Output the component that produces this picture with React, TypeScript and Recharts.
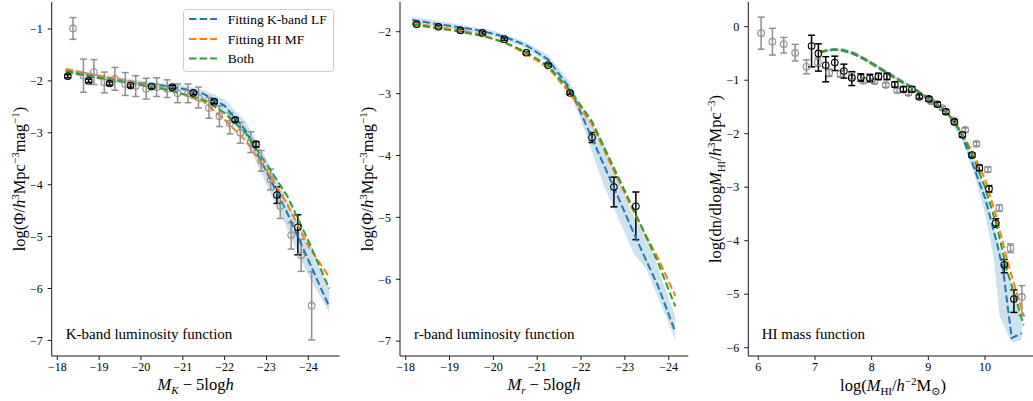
import React from 'react';
import { ComposedChart, Line, Area, Scatter, ErrorBar, XAxis, YAxis } from 'recharts';

const BLUE = '#1f77b4';
const ORANGE = '#ff7f0e';
const GREEN = '#2ca02c';
const GRAY = '#8f8f8f';
const FONT = '"Liberation Serif", "Times New Roman", "DejaVu Serif", serif';

const legendLabels = ['Fitting K-band LF', 'Fitting HI MF', 'Both'];
const panelTitles = ['K-band luminosity function', 'r-band luminosity function', 'HI mass function'];

// ---------- Panel 1 : K-band LF ----------
const kTicksX = [-18, -19, -20, -21, -22, -23, -24];
const kTicksY = [-1, -2, -3, -4, -5, -6, -7];
const kCurveX = [-18.2, -18.5, -19, -19.5, -20, -20.5, -21, -21.5, -22, -22.5, -23, -23.5, -24, -24.5];
const kBlue = [-1.8, -1.85, -1.92, -1.98, -2.04, -2.09, -2.15, -2.25, -2.48, -2.95, -3.75, -4.55, -5.45, -6.35];
const kOrange = [-1.77, -1.82, -1.9, -1.97, -2.05, -2.14, -2.26, -2.4, -2.75, -3.15, -3.72, -4.38, -5.18, -5.78];
const kGreen = [-1.83, -1.87, -1.95, -2.01, -2.08, -2.15, -2.25, -2.36, -2.62, -3.0, -3.6, -4.22, -5.08, -6.0];
const kBandX = [-18.2, -19, -20, -21, -21.5, -22, -22.5, -23, -23.5, -24, -24.5];
const kBandLo = [-1.85, -1.97, -2.09, -2.21, -2.33, -2.6, -3.12, -4.0, -4.85, -5.75, -6.45];
const kBandHi = [-1.75, -1.87, -1.99, -2.09, -2.17, -2.36, -2.78, -3.5, -4.3, -5.15, -6.0];
const kBlackX = [-18.25, -18.75, -19.25, -19.75, -20.25, -20.75, -21.25, -21.75, -22.25, -22.75, -23.25, -23.75];
const kBlackY = [-1.91, -2.0, -2.05, -2.09, -2.11, -2.12, -2.23, -2.4, -2.75, -3.22, -4.2, -4.82];
const kBlackLo = [0.03, 0.03, 0.03, 0.03, 0.03, 0.03, 0.03, 0.03, 0.04, 0.05, 0.16, 0.53];
const kBlackHi = [0.03, 0.03, 0.03, 0.03, 0.03, 0.03, 0.03, 0.03, 0.04, 0.05, 0.16, 0.24];
const kGrayX = [-18.375, -18.625, -18.875, -19.125, -19.375, -19.625, -19.875, -20.125, -20.375, -20.625, -20.875, -21.125, -21.375, -21.625, -21.875, -22.125, -22.375, -22.625, -22.875, -23.1, -23.33, -23.59, -23.83, -24.08];
const kGrayY = [-0.99, -1.9, -1.83, -2.03, -1.96, -2.06, -2.1, -2.15, -2.12, -2.15, -2.24, -2.24, -2.32, -2.52, -2.68, -2.82, -3.0, -3.18, -3.54, -3.9, -4.41, -4.97, -5.36, -6.33];
const kGrayLo = [0.21, 0.32, 0.24, 0.2, 0.22, 0.22, 0.2, 0.2, 0.18, 0.17, 0.18, 0.18, 0.2, 0.2, 0.2, 0.2, 0.2, 0.2, 0.2, 0.2, 0.24, 0.27, 0.31, 0.66];
const kGrayHi = [0.21, 0.32, 0.24, 0.2, 0.22, 0.22, 0.2, 0.2, 0.18, 0.17, 0.18, 0.18, 0.2, 0.2, 0.2, 0.2, 0.2, 0.2, 0.2, 0.2, 0.21, 0.24, 0.31, 0.65];

// ---------- Panel 2 : r-band LF ----------
const rTicksX = [-18, -19, -20, -21, -22, -23, -24];
const rTicksY = [-2, -3, -4, -5, -6, -7];
const rCurveX = [-18.15, -18.75, -19.25, -19.75, -20.25, -20.75, -21.25, -21.75, -22.25, -22.75, -23.25, -23.75, -24.15];
const rBlue = [-1.81, -1.88, -1.93, -1.99, -2.08, -2.22, -2.45, -2.92, -3.72, -4.52, -5.33, -6.1, -6.85];
const rOrange = [-1.86, -1.93, -1.98, -2.05, -2.17, -2.36, -2.58, -3.0, -3.5, -4.25, -4.98, -5.65, -6.27];
const rGreen = [-1.88, -1.95, -2.0, -2.07, -2.17, -2.33, -2.55, -2.95, -3.45, -4.2, -4.95, -5.72, -6.44];
const rBandX = [-18.15, -19, -20, -20.75, -21.25, -21.75, -22, -22.5, -23.2, -23.5, -24.15];
const rBandLo = [-1.86, -1.95, -2.07, -2.27, -2.51, -3.0, -3.43, -4.45, -5.58, -5.85, -6.98];
const rBandHi = [-1.76, -1.86, -1.98, -2.17, -2.38, -2.82, -3.2, -3.76, -4.99, -5.3, -6.6];
const rBlackX = [-18.25, -18.75, -19.25, -19.75, -20.25, -20.75, -21.25, -21.75, -22.25, -22.75, -23.25];
const rBlackY = [-1.88, -1.92, -1.98, -2.02, -2.12, -2.34, -2.54, -2.99, -3.71, -4.51, -4.82];
const rBlackLo = [0.02, 0.02, 0.02, 0.02, 0.02, 0.02, 0.02, 0.02, 0.08, 0.32, 0.54];
const rBlackHi = [0.02, 0.02, 0.02, 0.02, 0.02, 0.02, 0.02, 0.02, 0.08, 0.16, 0.23];

// ---------- Panel 3 : HI MF ----------
const hTicksX = [6, 7, 8, 9, 10];
const hTicksY = [0, -1, -2, -3, -4, -5, -6];
const hBlueX = [7.09, 7.2, 7.35, 7.5, 7.7, 7.9, 8.1, 8.3, 8.5, 8.7, 8.9, 9.1, 9.3, 9.44, 9.6, 9.8, 10.0, 10.2, 10.32, 10.47, 10.65];
const hBlue = [-0.47, -0.44, -0.42, -0.43, -0.5, -0.61, -0.74, -0.87, -1.0, -1.12, -1.26, -1.41, -1.57, -1.74, -2.05, -2.62, -3.2, -4.0, -4.55, -5.82, -5.73];
const hFitX = [7.09, 7.2, 7.35, 7.5, 7.7, 7.9, 8.1, 8.3, 8.5, 8.7, 8.9, 9.1, 9.3, 9.44, 9.6, 9.8, 10.0, 10.2, 10.4, 10.55, 10.68];
const hOrange = [-0.49, -0.45, -0.43, -0.45, -0.52, -0.63, -0.76, -0.89, -1.02, -1.14, -1.28, -1.42, -1.58, -1.73, -2.0, -2.38, -2.85, -3.55, -4.4, -4.95, -5.39];
const hGreen = [-0.48, -0.45, -0.43, -0.45, -0.52, -0.63, -0.76, -0.89, -1.02, -1.14, -1.28, -1.43, -1.59, -1.75, -2.03, -2.45, -3.0, -3.7, -4.6, -5.1, -5.58];
const hBandX = [7.09, 7.35, 7.7, 8.1, 8.5, 8.9, 9.3, 9.6, 9.8, 10.0, 10.15, 10.26, 10.47, 10.65];
const hBandLo = [-0.5, -0.45, -0.53, -0.77, -1.03, -1.29, -1.62, -2.12, -2.72, -3.5, -4.3, -5.42, -5.9, -5.85];
const hBandHi = [-0.44, -0.39, -0.47, -0.71, -0.97, -1.23, -1.53, -1.97, -2.42, -3.05, -3.68, -4.11, -4.83, -5.45];
const hBlackX = [6.94, 7.06, 7.19, 7.35, 7.51, 7.65, 7.81, 7.97, 8.12, 8.27, 8.41, 8.56, 8.71, 8.84, 9.01, 9.16, 9.31, 9.46, 9.6, 9.77, 9.9, 10.07, 10.19, 10.34, 10.51];
const hBlackY = [-0.36, -0.5, -0.72, -0.67, -0.83, -0.96, -0.95, -0.96, -0.93, -0.93, -1.08, -1.17, -1.17, -1.31, -1.35, -1.45, -1.59, -1.78, -2.02, -2.4, -2.64, -3.03, -3.67, -4.45, -5.09];
const hBlackLo = [0.39, 0.33, 0.31, 0.15, 0.13, 0.14, 0.07, 0.07, 0.06, 0.06, 0.05, 0.05, 0.05, 0.04, 0.04, 0.04, 0.04, 0.04, 0.04, 0.04, 0.05, 0.06, 0.08, 0.15, 0.25];
const hBlackHi = [0.2, 0.18, 0.16, 0.12, 0.13, 0.12, 0.07, 0.07, 0.06, 0.06, 0.05, 0.05, 0.05, 0.04, 0.04, 0.04, 0.04, 0.04, 0.04, 0.04, 0.05, 0.06, 0.08, 0.1, 0.17];
const hGrayX = [6.05, 6.25, 6.45, 6.65, 6.85, 7.05, 7.25, 7.45, 7.65, 7.85, 8.05, 8.25, 8.45, 8.65, 8.85, 9.05, 9.25, 9.45, 9.65, 9.85, 10.05, 10.25, 10.45, 10.65];
const hGrayY = [-0.12, -0.28, -0.33, -0.49, -0.75, -0.66, -0.86, -0.88, -0.92, -1.01, -1.02, -1.09, -1.19, -1.24, -1.3, -1.4, -1.52, -1.75, -1.93, -2.19, -2.67, -3.39, -4.14, -5.05];
const hGrayLo = [0.3, 0.25, 0.16, 0.15, 0.13, 0.08, 0.07, 0.06, 0.06, 0.05, 0.04, 0.04, 0.04, 0.04, 0.03, 0.03, 0.03, 0.03, 0.04, 0.04, 0.05, 0.06, 0.08, 0.35];
const hGrayHi = [0.3, 0.25, 0.13, 0.16, 0.13, 0.08, 0.07, 0.06, 0.06, 0.05, 0.04, 0.04, 0.04, 0.04, 0.03, 0.03, 0.03, 0.03, 0.04, 0.04, 0.05, 0.06, 0.08, 0.21];

const zip = (xs: number[], ys: number[]) => xs.map((x, i) => ({ x, y: ys[i] }));
const zipBand = (xs: number[], lo: number[], hi: number[]) => xs.map((x, i) => ({ x, band: [lo[i], hi[i]] }));
const zipPts = (xs: number[], ys: number[], lo: number[], hi: number[]) =>
  xs.map((x, i) => ({ x, y: ys[i], err: [lo[i], hi[i]] }));

const fmt = (v: number) => (v < 0 ? '\u2212' + Math.abs(v) : String(v));
const ring = (color: string) => (p: any) =>
  p.cx == null ? <g /> : <circle cx={p.cx} cy={p.cy} r={3.3} fill="none" stroke={color} strokeWidth={1.1} />;

const AXIS = '#1a1a1a';
const tickStyle = { fontSize: 12, fill: '#000', style: { fontFamily: FONT } };
const DASH = '7.4 3.2';

type PanelProps = {
  left: number; width: number; plotLeft: number; plotRight: number;
  xDomain: [number, number]; reversed: boolean; xTicks: number[];
  yDomain: [number, number]; yTicks: number[];
  band: any[]; blue: any[]; orange: any[]; green: any[];
  gray?: any[]; black: any[];
};

function Panel(p: PanelProps) {
  const marginRight = p.width - (p.plotRight - p.left);
  return (
    <div style={{ position: 'absolute', left: p.left, top: 0, fontFamily: FONT }}>
      <ComposedChart width={p.width} height={401} margin={{ top: 2, right: marginRight, bottom: 0, left: 0 }}
        style={{ fontFamily: FONT }}>
        <XAxis xAxisId="b" type="number" dataKey="x" domain={p.xDomain} allowDataOverflow reversed={p.reversed}
          ticks={p.xTicks} tickFormatter={fmt} height={45} tickSize={4} tickMargin={2}
          tick={tickStyle} stroke={AXIS} interval={0} />
        <XAxis xAxisId="t" type="number" orientation="top" domain={p.xDomain} allowDataOverflow reversed={p.reversed}
          height={0} tick={false} tickLine={false} stroke={AXIS} />
        <YAxis yAxisId="l" type="number" dataKey="y" domain={p.yDomain} allowDataOverflow ticks={p.yTicks}
          tickFormatter={fmt} width={p.plotLeft - p.left} tickSize={4} tickMargin={5}
          tick={tickStyle} stroke={AXIS} interval={0} />
        <YAxis yAxisId="r" type="number" orientation="right" domain={p.yDomain} allowDataOverflow
          width={0} tick={false} tickLine={false} stroke={AXIS} />
        <Area xAxisId="b" yAxisId="l" data={p.band} dataKey="band" type="linear" stroke="none"
          fill={BLUE} fillOpacity={0.22} isAnimationActive={false} />
        {p.gray && (
          <Scatter xAxisId="b" yAxisId="l" data={p.gray} dataKey="y" shape={ring(GRAY)} isAnimationActive={false}>
            <ErrorBar dataKey="err" direction="y" stroke={GRAY} strokeWidth={1.5} width={3.5} isAnimationActive={false} />
          </Scatter>
        )}
        <Scatter xAxisId="b" yAxisId="l" data={p.black} dataKey="y" shape={ring('#000')} isAnimationActive={false}>
          <ErrorBar dataKey="err" direction="y" stroke="#000" strokeWidth={1.5} width={3.5} isAnimationActive={false} />
        </Scatter>
        <Line xAxisId="b" yAxisId="l" data={p.blue} dataKey="y" type="linear" stroke={BLUE} strokeWidth={2}
          strokeDasharray={DASH} dot={false} activeDot={false} isAnimationActive={false} />
        <Line xAxisId="b" yAxisId="l" data={p.orange} dataKey="y" type="linear" stroke={ORANGE} strokeWidth={2}
          strokeDasharray={DASH} dot={false} activeDot={false} isAnimationActive={false} />
        <Line xAxisId="b" yAxisId="l" data={p.green} dataKey="y" type="linear" stroke={GREEN} strokeWidth={2}
          strokeDasharray={DASH} dot={false} activeDot={false} isAnimationActive={false} />
      </ComposedChart>
    </div>
  );
}

const SUP = 11;

function Overlay() {
  const legendColors = [BLUE, ORANGE, GREEN];
  const legendRows = [19, 39, 58.5];
  return (
    <svg width={1033} height={401} style={{ position: 'absolute', left: 0, top: 0, pointerEvents: 'none', fontFamily: FONT }}
      fill="#000">
      {/* legend */}
      <rect x={183.5} y={9.5} width={150} height={62} rx={3} fill="#fff" fillOpacity={0.85} stroke="#cccccc" />
      {legendLabels.map((lab, i) => (
        <g key={lab}>
          <line x1={189} x2={217} y1={legendRows[i]} y2={legendRows[i]} stroke={legendColors[i]} strokeWidth={2}
            strokeDasharray={DASH} />
          <text x={227.7} y={legendRows[i] + 4.5} fontSize={13.5}>{lab}</text>
        </g>
      ))}
      {/* panel annotations */}
      <text x={65.7} y={339} fontSize={15}>{panelTitles[0]}</text>
      <text x={414} y={339} fontSize={15}>{panelTitles[1]}</text>
      <text x={761.7} y={339} fontSize={15}>{panelTitles[2]}</text>

      {/* x titles */}
      <text x={195.6} y={390} fontSize={16.5} textAnchor="middle">
        <tspan fontStyle="italic">M</tspan>
        <tspan dy={4} fontSize={SUP} fontStyle="italic">K</tspan>
        <tspan dy={-4}>{' \u2212 5log'}</tspan>
        <tspan fontStyle="italic">h</tspan>
      </text>
      <text x={544} y={390} fontSize={16.5} textAnchor="middle">
        <tspan fontStyle="italic">M</tspan>
        <tspan dy={4} fontSize={SUP} fontStyle="italic">r</tspan>
        <tspan dy={-4}>{' \u2212 5log'}</tspan>
        <tspan fontStyle="italic">h</tspan>
      </text>
      <text x={893} y={391} fontSize={16.5} textAnchor="middle">
        <tspan>log(</tspan>
        <tspan fontStyle="italic">M</tspan>
        <tspan dy={4} fontSize={SUP}>HI</tspan>
        <tspan dy={-4}>/</tspan>
        <tspan fontStyle="italic">h</tspan>
        <tspan dy={-6} fontSize={SUP}>{'\u22122'}</tspan>
        <tspan dy={6}>M</tspan>
        <tspan dy={4} fontSize={SUP}>{'\u2299'}</tspan>
        <tspan dy={-4}>)</tspan>
      </text>

      {/* y titles */}
      <text transform="translate(25,179) rotate(-90)" fontSize={16.5} textAnchor="middle">
        <tspan>{'log(\u03a6/'}</tspan>
        <tspan fontStyle="italic">h</tspan>
        <tspan dy={-6} fontSize={SUP}>3</tspan>
        <tspan dy={6}>Mpc</tspan>
        <tspan dy={-6} fontSize={SUP}>{'\u22123'}</tspan>
        <tspan dy={6}>mag</tspan>
        <tspan dy={-6} fontSize={SUP}>{'\u22121'}</tspan>
        <tspan dy={6}>)</tspan>
      </text>
      <text transform="translate(373,179) rotate(-90)" fontSize={16.5} textAnchor="middle">
        <tspan>{'log(\u03a6/'}</tspan>
        <tspan fontStyle="italic">h</tspan>
        <tspan dy={-6} fontSize={SUP}>3</tspan>
        <tspan dy={6}>Mpc</tspan>
        <tspan dy={-6} fontSize={SUP}>{'\u22123'}</tspan>
        <tspan dy={6}>mag</tspan>
        <tspan dy={-6} fontSize={SUP}>{'\u22121'}</tspan>
        <tspan dy={6}>)</tspan>
      </text>
      <text transform="translate(721,179) rotate(-90)" fontSize={16.5} textAnchor="middle">
        <tspan>log(dn/dlog</tspan>
        <tspan fontStyle="italic">M</tspan>
        <tspan dy={4} fontSize={SUP}>HI</tspan>
        <tspan dy={-4}>/</tspan>
        <tspan fontStyle="italic">h</tspan>
        <tspan dy={-6} fontSize={SUP}>3</tspan>
        <tspan dy={6}>Mpc</tspan>
        <tspan dy={-6} fontSize={SUP}>{'\u22123'}</tspan>
        <tspan dy={6}>)</tspan>
      </text>
    </svg>
  );
}

export default function App() {
  return (
    <div style={{ position: 'fixed', left: 0, top: 0, width: 1033, height: 401, overflow: 'hidden', background: '#fff', fontFamily: FONT }}>
      <Panel left={0} width={345} plotLeft={51.7} plotRight={339.5}
        xDomain={[-24.746, -17.866]} reversed xTicks={kTicksX}
        yDomain={[-7.3, -0.48]} yTicks={kTicksY}
        band={zipBand(kBandX, kBandLo, kBandHi)}
        blue={zip(kCurveX, kBlue)} orange={zip(kCurveX, kOrange)} green={zip(kCurveX, kGreen)}
        gray={zipPts(kGrayX, kGrayY, kGrayLo, kGrayHi)}
        black={zipPts(kBlackX, kBlackY, kBlackLo, kBlackHi)} />
      <Panel left={345} width={347} plotLeft={400} plotRight={688.3}
        xDomain={[-24.447, -17.87]} reversed xTicks={rTicksX}
        yDomain={[-7.24, -1.52]} yTicks={rTicksY}
        band={zipBand(rBandX, rBandLo, rBandHi)}
        blue={zip(rCurveX, rBlue)} orange={zip(rCurveX, rOrange)} green={zip(rCurveX, rGreen)}
        black={zipPts(rBlackX, rBlackY, rBlackLo, rBlackHi)} />
      <Panel left={692} width={360} plotLeft={748.3} plotRight={1040}
        xDomain={[5.824, 10.97]} reversed={false} xTicks={hTicksX}
        yDomain={[-6.155, 0.462]} yTicks={hTicksY}
        band={zipBand(hBandX, hBandLo, hBandHi)}
        blue={zip(hBlueX, hBlue)} orange={zip(hFitX, hOrange)} green={zip(hFitX, hGreen)}
        gray={zipPts(hGrayX, hGrayY, hGrayLo, hGrayHi)}
        black={zipPts(hBlackX, hBlackY, hBlackLo, hBlackHi)} />
      <Overlay />
    </div>
  );
}
